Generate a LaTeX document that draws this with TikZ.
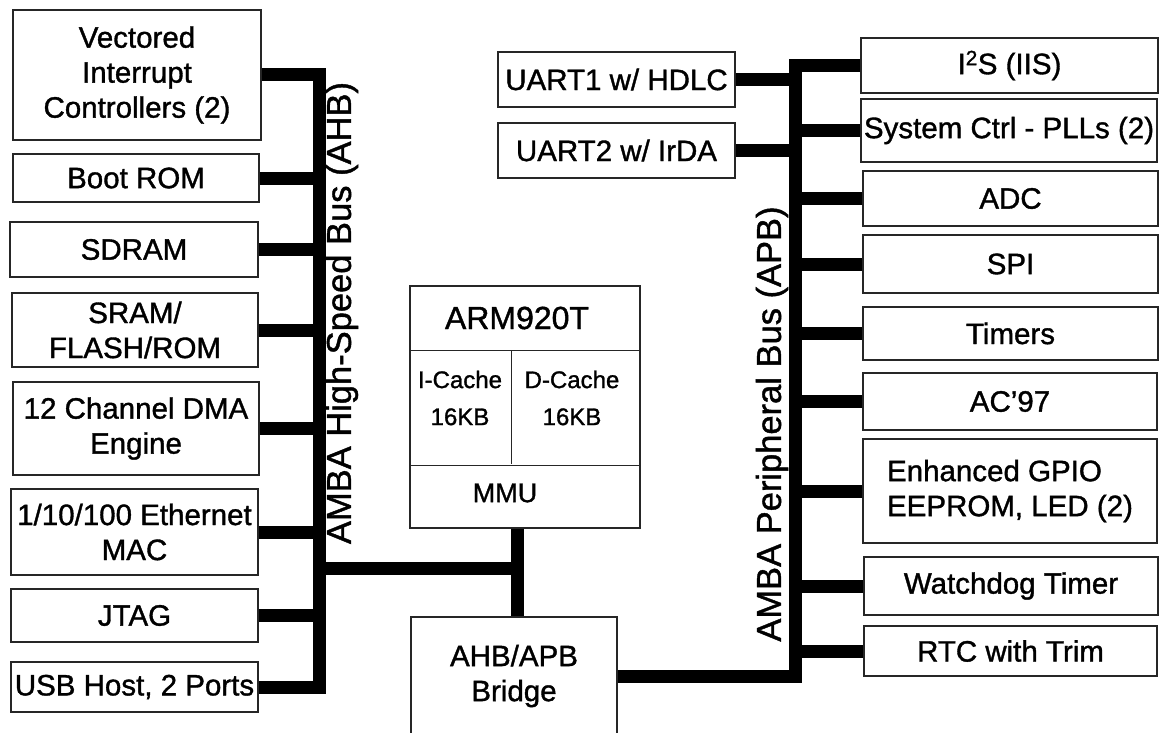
\documentclass[tikz,border=0pt]{standalone}
\usepackage{fontspec}
\setmainfont{Liberation Sans}[RawFeature={embolden=1.2}]
\begin{document}
\begin{tikzpicture}
[x=1pt,y=-1pt,
  unitbox/.style={draw=black!85,line width=1.3pt,inner sep=0pt,align=center,
    font=\fontsize{29.5}{35}\selectfont},%
  busline/.style={-,line width=13pt,line join=miter},%
  buslabel/.style={rotate=90,inner sep=0pt,font=\fontsize{34.5}{40}\selectfont},%
  celltext/.style={inner sep=0pt,align=center,font=\fontsize{24}{37}\selectfont}]
\useasboundingbox (0,0) rectangle (1164,733);
%% units on the high-speed bus
\foreach \nodename/\x/\y/\w/\h/\txt in {
  vic/137/75/248/130/{Vectored\\Interrupt\\Controllers (2)},
  boot/136/178/246/48/{Boot ROM},
  sdram/134/249.5/248/55/{SDRAM},
  sram/135/330/246/74/{SRAM/\\FLASH/ROM},
  dma/136/428.5/246/93/{12 Channel DMA\\Engine},
  eth/134.5/532/247/86/{1/10/100 Ethernet\\MAC},
  jtag/134.5/615.5/247/53/{JTAG},
  usb/134.5/687/247/50/{USB Host, 2 Ports}} {
  \node (\nodename) at (\x,\y) [unitbox,minimum width=\w pt,minimum height=\h pt] {\txt};
}
%% units on the peripheral bus
\foreach \nodename/\x/\y/\w/\h/\txt in {
  uart1/616.5/79.5/237/55/{UART1 w/ HDLC},
  uart2/616.5/150.5/237/55/{UART2 w/ IrDA},
  i2s/1009.5/65.5/297/55/{I\textsuperscript{2}S (IIS)},
  sysctrl/1009/130.5/296/63/{System Ctrl - PLLs (2)},
  adc/1010.5/198.5/295/55/{ADC},
  spi/1010.5/264/295/58/{SPI},
  timers/1010.5/333.5/295/53/{Timers},
  ac97/1010/401.5/294/57/{AC’97},
  wdt/1011/586/294/58/{Watchdog Timer},
  rtc/1010.5/651/293/50/{RTC with Trim}} {
  \node (\nodename) at (\x,\y) [unitbox,minimum width=\w pt,minimum height=\h pt] {\txt};
}
\node (gpio) at (1010,491) [unitbox,align=left,minimum width=294pt,minimum height=104pt]
  {Enhanced GPIO\\EEPROM, LED (2)};
%% cpu core and bridge
\node (arm) at (525,407) [draw=black!85,line width=1.3pt,minimum width=230pt,minimum height=242pt] {};
\draw[black!85,line width=1.3pt] (arm.north west) ++(0,65) -- ++(230,0);
\draw[black!85,line width=1.3pt] (arm.south west) ++(0,-63) -- ++(230,0);
\draw[black!85,line width=1.3pt] (arm.north west) ++(102,65) -- ++(0,114);
\node (armname) at (517,318) [inner sep=0pt,font=\fontsize{32}{38}\selectfont] {ARM920T};
\node (icache) at (460,398) [celltext] {I-Cache\\16KB};
\node (dcache) at (572,398) [celltext] {D-Cache\\16KB};
\node (mmu) at (505,493) [inner sep=0pt,font=\fontsize{27}{32}\selectfont] {MMU};
\node (bridge) at (514,676) [unitbox,minimum width=206pt,minimum height=118pt] {AHB/APB\\Bridge};
%% bus labels
\node (ahblabel) at (342,313) [buslabel] {AMBA High-Speed Bus (AHB)};
\node (apblabel) at (772,424) [buslabel] {AMBA Peripheral Bus (APB)};
%% buses
\coordinate (ahb) at (319.5,0);
\coordinate (apb) at (795.5,0);
\coordinate (mmutap) at (517,568);
\draw[busline] (vic.east) -| (ahb |- usb.east) -- (usb.east);
\draw[busline] (i2s.west) -| (apb |- bridge.east) -- (bridge.east);
\path
\foreach \startnode in {boot, sdram, sram, dma, eth, jtag} {
  (\startnode.east) edge[busline] (\startnode.east -| ahb)
}
\foreach \startnode in {uart1, uart2} {
  (\startnode.east) edge[busline] (\startnode.east -| apb)
}
\foreach \startnode in {sysctrl, adc, spi, timers, ac97, gpio, wdt, rtc} {
  (\startnode.west) edge[busline] (\startnode.west -| apb)
}
(mmutap -| ahb) edge[busline] (mmutap)
(mmutap |- arm.south) edge[busline] (mmutap |- bridge.north);
\end{tikzpicture}
\end{document}
